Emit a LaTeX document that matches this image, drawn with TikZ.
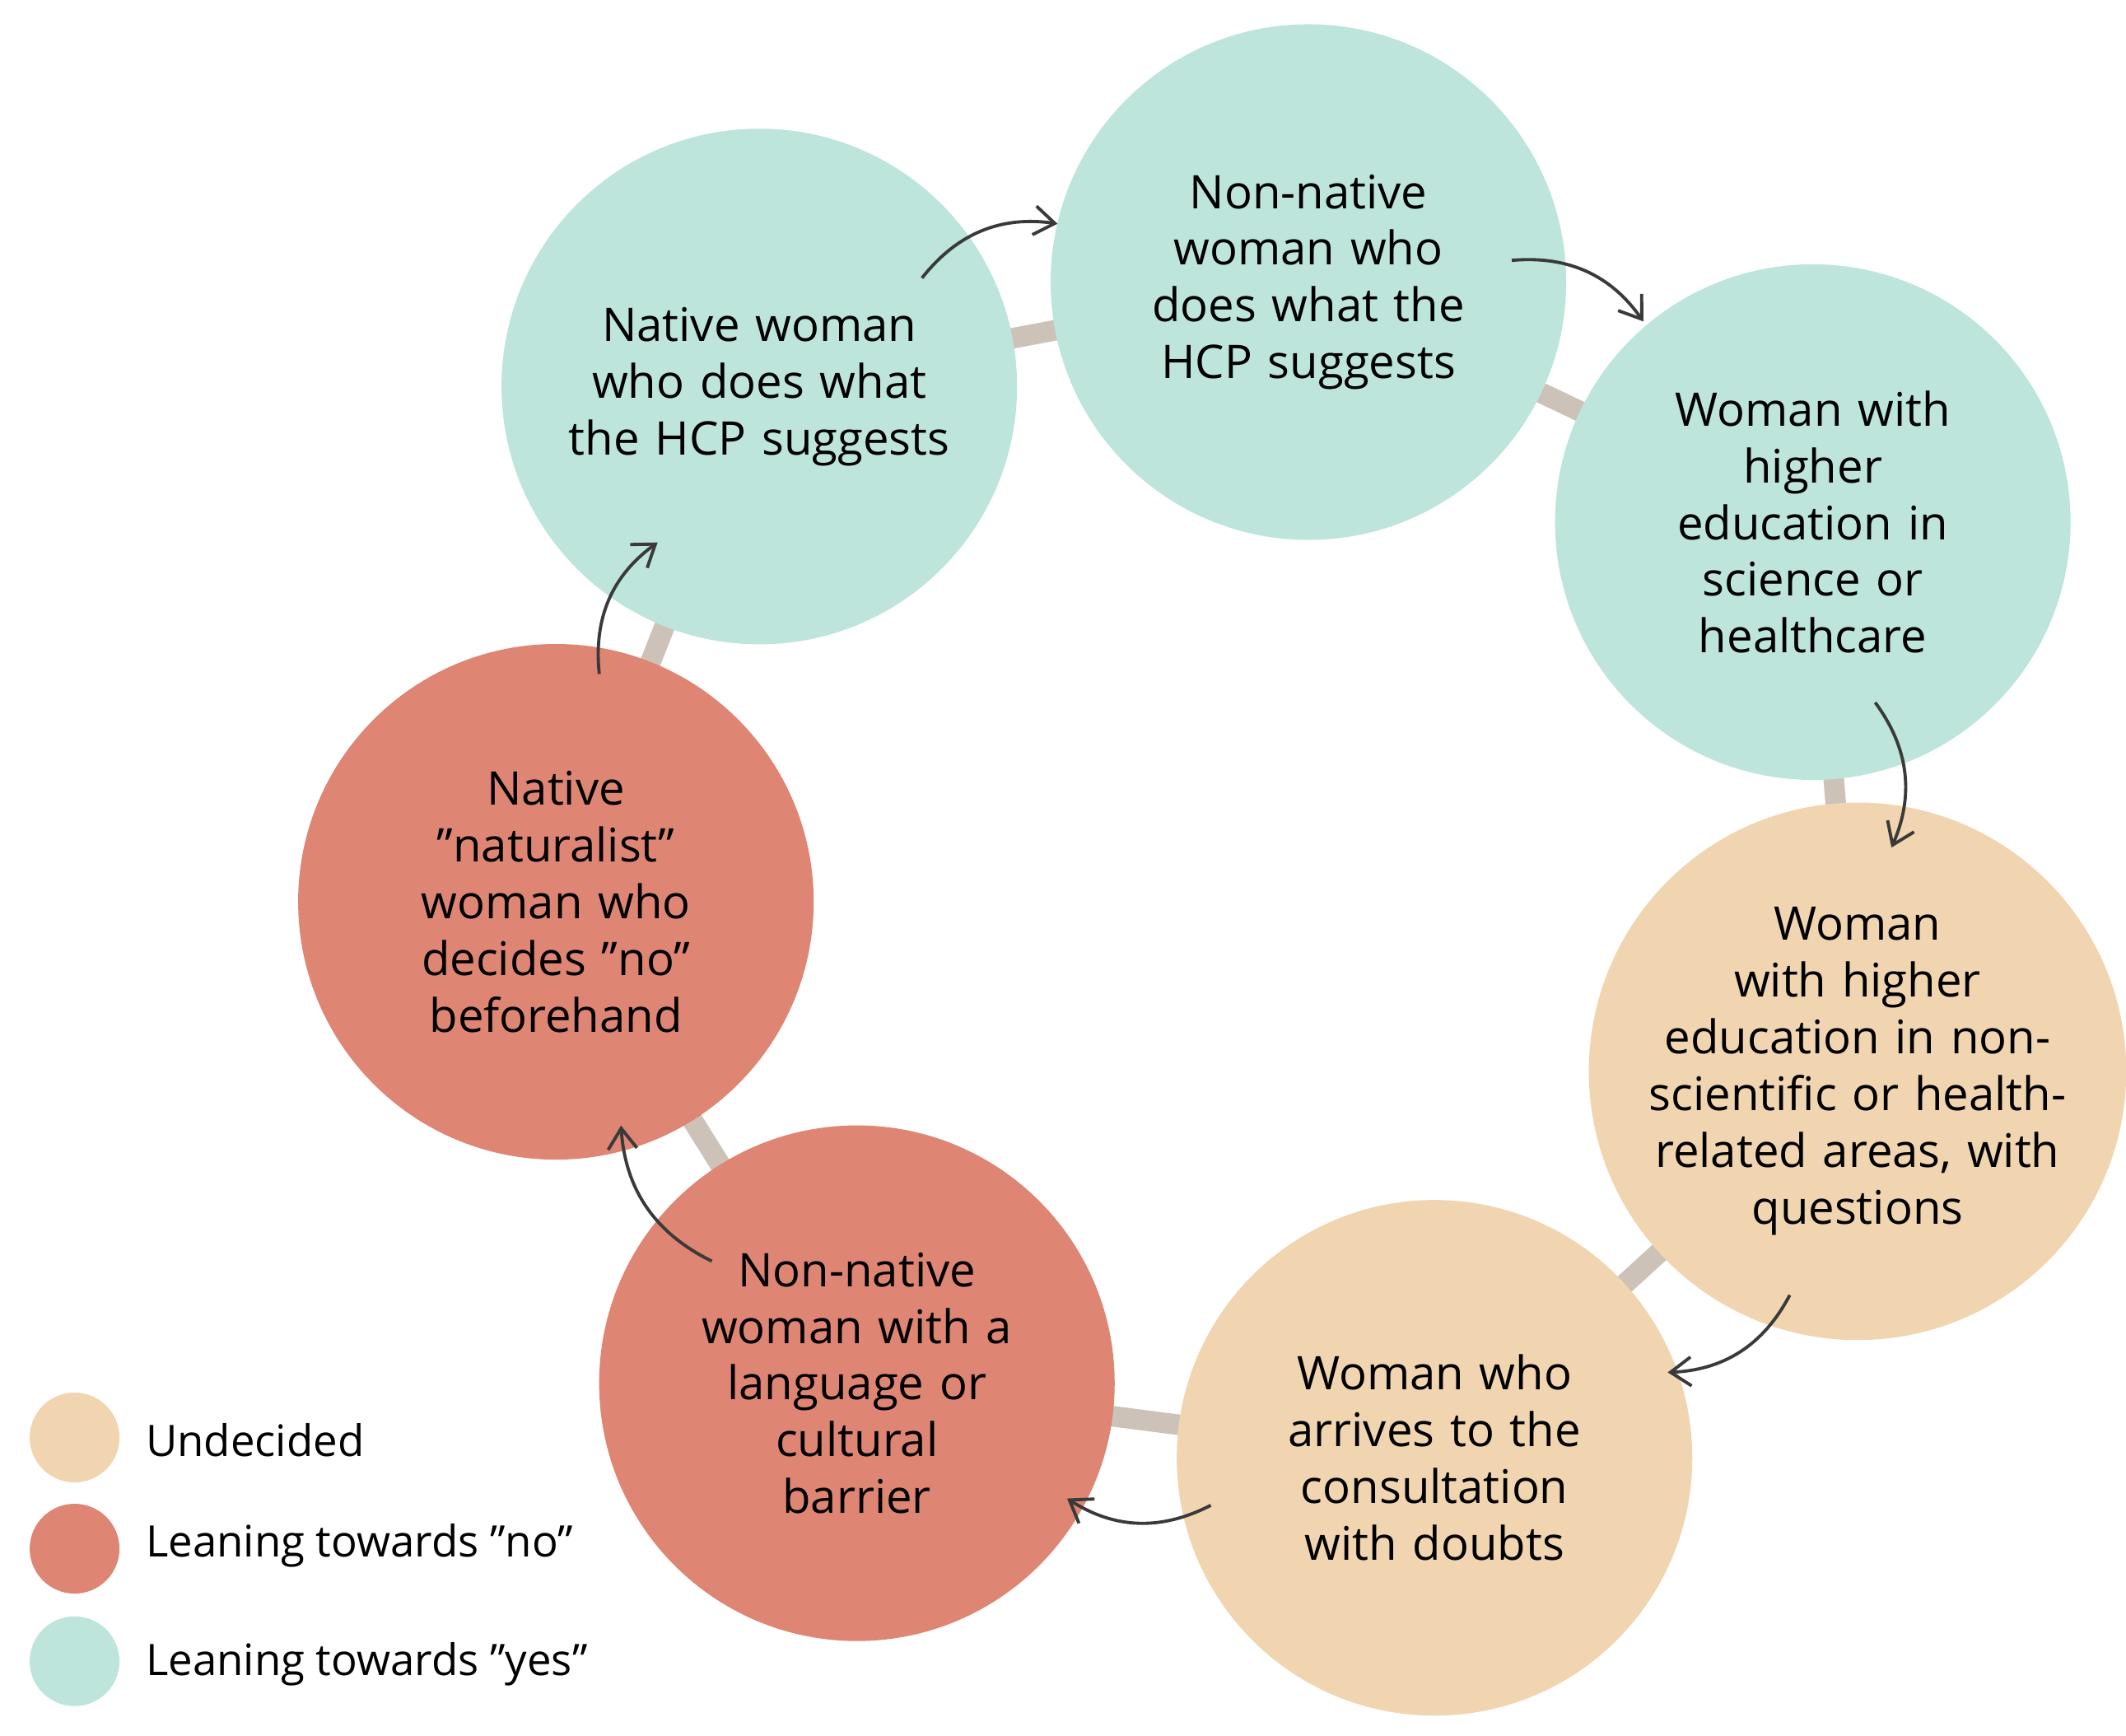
\documentclass[tikz,border=0pt]{standalone}
\usepackage{fontspec}
\setmainfont{Open Sans}
\usetikzlibrary{arrows.meta}
\definecolor{yescol}{HTML}{BDE5DB}
\definecolor{nocol}{HTML}{DE8574}
\definecolor{undcol}{HTML}{F0D5B0}
\definecolor{linkcol}{HTML}{CCC2B8}
\definecolor{arrcol}{HTML}{3A3A3A}
\tikzset{
  stage/.style = {circle, minimum size=6.26cm, inner sep=0pt, text width=5.2cm,
    align=center, font=\fontsize{16}{19.6}\selectfont},
  link/.style = {line width=0.25cm, linkcol},
  flow/.style = {arrcol, line width=1.1pt, bend left=30,
    -{Straight Barb[length=2.5mm, width=3.5mm]}},
  key/.style = {circle, minimum size=1.09cm, inner sep=0pt},
  keytext/.style = {right, font=\fontsize{15}{18}\selectfont}
}
\begin{document}
\begin{tikzpicture}[x=0.01647cm, y=-0.01647cm]
\useasboundingbox (0,0) rectangle (1568,1280);
% positions
\coordinate (c1) at (560,285);
\coordinate (c2) at (965,208);
\coordinate (c3) at (1337,385);
\coordinate (c4) at (1370,790);
\coordinate (c5) at (1058,1075);
\coordinate (c6) at (632,1020);
\coordinate (c7) at (410,665);
% links behind
\foreach \a/\b in {c1/c2, c2/c3, c3/c4, c4/c5, c5/c6, c6/c7, c7/c1}
  \draw [link] (\a) -- (\b);
% stages
\node [stage, fill=yescol] (nathcp) at (c1) {Native woman\\ who does what\\ the HCP suggests};
\node [stage, fill=yescol] (nonhcp) at (c2) {Non-native\\ woman who\\ does what the\\ HCP suggests};
\node [stage, fill=yescol] (scied) at (c3) {Woman with\\ higher\\ education in\\ science or\\ healthcare};
\node [stage, fill=undcol] (nonsci) at (c4) {Woman with higher\\ education in non-\\ scientific or health-\\ related areas, with\\ questions};
\node [stage, fill=undcol] (doubts) at (c5) {Woman who\\ arrives to the\\ consultation\\ with doubts};
\node [stage, fill=nocol] (barrier) at (c6) {Non-native\\ woman with a\\ language or\\ cultural\\ barrier};
\node [stage, fill=nocol] (natural) at (c7) {Native\\ "naturalist"\\ woman who\\ decides "no"\\ beforehand};
% arrow ends
\coordinate (a1) at (680,205);  \coordinate (b1) at (780,165);
\coordinate (a2) at (1115,192); \coordinate (b2) at (1212,237);
\coordinate (a3) at (1383,518); \coordinate (b3) at (1395,625);
\coordinate (a4) at (1320,955); \coordinate (b4) at (1230,1012);
\coordinate (a5) at (893,1110); \coordinate (b5) at (787,1105);
\coordinate (a6) at (525,930);  \coordinate (b6) at (458,830);
\coordinate (a7) at (442,497);  \coordinate (b7) at (485,400);
\foreach \i in {1,...,7}
  \draw [flow] (a\i) to (b\i);
% legend
\node [key, fill=undcol] (kund) at (55,1060) {};
\node [key, fill=nocol] (kno) at (55,1142) {};
\node [key, fill=yescol] (kyes) at (55,1225) {};
\node [keytext] at (100,1062) {Undecided};
\node [keytext] at (100,1140) {Leaning towards "no"};
\node [keytext] at (100,1227) {Leaning towards "yes"};
\end{tikzpicture}
\end{document}
